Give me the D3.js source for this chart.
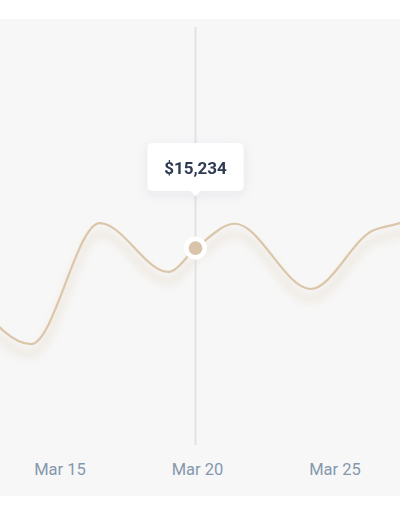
<!DOCTYPE html>
<html>
<head>
<meta charset="utf-8">
<script src="https://cdn.jsdelivr.net/npm/d3@7"></script>
<style>
  html, body { margin: 0; padding: 0; background: #ffffff; }
  svg { display: block; font-family: Roboto, "Noto Sans", sans-serif; }
</style>
</head>
<body>
<svg id="chart"></svg>
<script>
// data
var dates = ["2024-03-12T00:00", "2024-03-14T00:00", "2024-03-16T12:00", "2024-03-19T00:00",
             "2024-03-20T00:00", "2024-03-21T10:00", "2024-03-24T04:00", "2024-03-26T10:00",
             "2024-03-27T10:00", "2024-03-28T12:00"];
var values = [11000, 7650, 17200, 13350,
              15234, 17150, 12000, 16600,
              17200, 18100];
var tickDates = ["2024-03-15T00:00", "2024-03-20T00:00", "2024-03-25T00:00"];
var selectedDate = "2024-03-20T00:00";

// size
var size = { width: 400, height: 516 };

var parseDate = d3.timeParse("%Y-%m-%dT%H:%M");

var data = dates.map(function(d, i){ return { date: parseDate(d), value: values[i] }; });
var selected = data.find(function(d){ return +d.date === +parseDate(selectedDate); });

var svg = d3.select("#chart")
  .attr("width", size.width)
  .attr("height", size.height);

var defs = svg.append("defs");

defs.append("filter")
  .attr("id", "lineShadow")
  .attr("x", "-10%").attr("y", "-50%")
  .attr("width", "120%").attr("height", "200%")
  .append("feGaussianBlur")
    .attr("stdDeviation", 4);

var tipShadow = defs.append("filter")
  .attr("id", "tipShadow")
  .attr("x", "-40%").attr("y", "-60%")
  .attr("width", "180%").attr("height", "240%");
tipShadow.append("feDropShadow")
  .attr("dx", 0).attr("dy", 3)
  .attr("stdDeviation", 6)
  .attr("flood-color", "#3a4a78")
  .attr("flood-opacity", 0.08);

// background panel
svg.append("rect")
  .attr("x", 0).attr("y", 19)
  .attr("width", size.width).attr("height", 477)
  .attr("fill", "#f7f7f7");

var x = d3.scaleTime()
  .domain([parseDate("2024-03-13T00:00"), parseDate("2024-03-27T00:00")])
  .range([3.5, 388.5]);

var y = d3.scaleLinear()
  .domain([0, 30000])
  .range([441, 61]);

var line = d3.line()
  .x(function(d){ return x(d.date); })
  .y(function(d){ return y(d.value); })
  .curve(d3.curveMonotoneX);

// x axis labels
var xAxis = d3.axisBottom(x)
  .tickValues(tickDates.map(parseDate))
  .tickFormat(d3.timeFormat("%b %-d"))
  .tickSize(0)
  .tickPadding(0);

var gx = svg.append("g")
  .attr("transform", "translate(1,0)")
  .call(xAxis);
gx.select(".domain").remove();
gx.selectAll("text")
  .attr("y", 475)
  .attr("dy", null)
  .attr("fill", "#8597ae")
  .style("font-size", "16.5px")
  .style("font-family", "Roboto, sans-serif");

// vertical guide
var sx = Math.round(x(selected.date)) - 0.5;
svg.append("line")
  .attr("x1", sx).attr("x2", sx)
  .attr("y1", 27).attr("y2", 445)
  .attr("stroke", "#e3e3e6")
  .attr("stroke-width", 2);

// shadow under the line
svg.append("path")
  .datum(data)
  .attr("d", line)
  .attr("transform", "translate(0,10)")
  .attr("fill", "none")
  .attr("stroke", "#e6dccd")
  .attr("stroke-width", 7)
  .attr("opacity", 0.55)
  .attr("filter", "url(#lineShadow)");

svg.append("path")
  .datum(data)
  .attr("class", "line")
  .attr("d", line)
  .attr("fill", "none")
  .attr("stroke", "#dcc6aa")
  .attr("stroke-width", 2.2);

// marker
svg.append("circle")
  .attr("cx", sx)
  .attr("cy", y(selected.value))
  .attr("r", 9.2)
  .attr("fill", "#d9c4a9")
  .attr("stroke", "#ffffff")
  .attr("stroke-width", 4.6);

// tooltip
var tip = svg.append("g")
  .attr("transform", "translate(" + sx + ",143)")
  .attr("filter", "url(#tipShadow)");

tip.append("rect")
  .attr("x", -48).attr("y", 0)
  .attr("width", 96).attr("height", 48)
  .attr("rx", 5)
  .attr("fill", "#ffffff");

tip.append("path")
  .attr("d", "M-5,48 L0,53 L5,48 Z")
  .attr("fill", "#ffffff");

tip.append("text")
  .attr("x", 0).attr("y", 31)
  .attr("text-anchor", "middle")
  .attr("fill", "#2f3a51")
  .style("font-size", "17px")
  .style("font-weight", 700)
  .text(d3.format("$,")(selected.value));
</script>
</body>
</html>
